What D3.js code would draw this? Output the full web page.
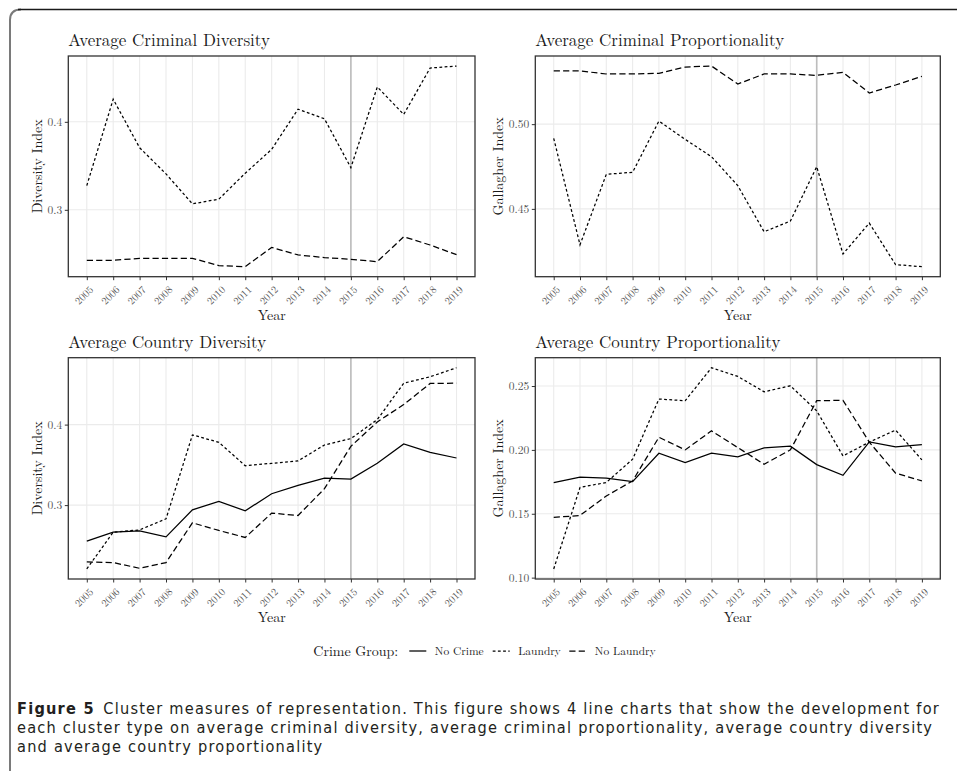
<!DOCTYPE html>
<html>
<head>
<meta charset="utf-8">
<script src="https://cdn.jsdelivr.net/npm/d3@7/dist/d3.min.js"></script>
<style>
  html, body { margin: 0; padding: 0; background: #fff; }
  svg { display: block; }
</style>
</head>
<body>
<svg id="fig" width="957" height="771"></svg>
<script>
// ---- data ----------------------------------------------------------------
const years = [2005, 2006, 2007, 2008, 2009, 2010, 2011, 2012, 2013, 2014, 2015, 2016, 2017, 2018, 2019];
const markerYear = 2015;

const groups = ["No Crime", "Laundry", "No Laundry"];

const crimDivLaundry    = [0.3275, 0.4257, 0.3706, 0.3408, 0.3068, 0.3121, 0.3416, 0.3687, 0.4144, 0.4034, 0.3479, 0.4396, 0.4084, 0.4611, 0.4634];
const crimDivNoLaundry  = [0.2426, 0.2426, 0.2449, 0.2449, 0.2449, 0.2366, 0.2354, 0.2573, 0.2487, 0.2457, 0.2438, 0.2411, 0.2694, 0.2600, 0.2490];

const crimPropLaundry   = [0.4916, 0.4288, 0.4704, 0.4716, 0.5018, 0.4910, 0.4808, 0.4637, 0.4365, 0.4428, 0.4749, 0.4234, 0.4416, 0.4171, 0.4159];
const crimPropNoLaundry = [0.5314, 0.5314, 0.5296, 0.5296, 0.5300, 0.5337, 0.5343, 0.5237, 0.5296, 0.5296, 0.5288, 0.5306, 0.5184, 0.5231, 0.5282];

const ctryDivNoCrime    = [0.2552, 0.2664, 0.2680, 0.2605, 0.2941, 0.3045, 0.2929, 0.3141, 0.3245, 0.3336, 0.3324, 0.3519, 0.3760, 0.3655, 0.3585];
const ctryDivLaundry    = [0.2207, 0.2664, 0.2692, 0.2829, 0.3872, 0.3780, 0.3489, 0.3519, 0.3549, 0.3747, 0.3826, 0.4062, 0.4514, 0.4594, 0.4706];
const ctryDivNoLaundry  = [0.2294, 0.2286, 0.2215, 0.2286, 0.2780, 0.2685, 0.2598, 0.2900, 0.2871, 0.3204, 0.3730, 0.4033, 0.4249, 0.4511, 0.4515];

const ctryPropNoCrime   = [0.1743, 0.1787, 0.1779, 0.1752, 0.1974, 0.1901, 0.1974, 0.1945, 0.2016, 0.2029, 0.1885, 0.1801, 0.2063, 0.2024, 0.2042];
const ctryPropLaundry   = [0.1068, 0.1706, 0.1745, 0.1927, 0.2398, 0.2385, 0.2643, 0.2575, 0.2455, 0.2502, 0.2306, 0.1953, 0.2061, 0.2155, 0.1922];
const ctryPropNoLaundry = [0.1471, 0.1487, 0.1639, 0.1757, 0.2099, 0.2000, 0.2149, 0.2018, 0.1888, 0.2000, 0.2385, 0.2388, 0.2061, 0.1818, 0.1757];

const divTicks   = [0.3, 0.4];
const crimPropTicks = [0.45, 0.50];
const ctryPropTicks = [0.10, 0.15, 0.20, 0.25];

const captionLines = [
  "Cluster measures of representation. This figure shows 4 line charts that show the development for",
  "each cluster type on average criminal diversity, average criminal proportionality, average country diversity",
  "and average country proportionality"
];

// ---- panels ----------------------------------------------------------------
const panels = [
  { title: "Average Criminal Diversity", yTitle: "Diversity Index", ticks: divTicks, fmt: ".1f",
    series: { "Laundry": crimDivLaundry, "No Laundry": crimDivNoLaundry },
    box: { x0: 68.3, x1: 475, y0: 56, y1: 276.7 }, titleX: 36.7 },
  { title: "Average Criminal Proportionality", yTitle: "Gallagher Index", ticks: crimPropTicks, fmt: ".2f",
    series: { "Laundry": crimPropLaundry, "No Laundry": crimPropNoLaundry },
    box: { x0: 535.3, x1: 940.3, y0: 56, y1: 276.7 }, titleX: 498 },
  { title: "Average Country Diversity", yTitle: "Diversity Index", ticks: divTicks, fmt: ".1f",
    series: { "No Crime": ctryDivNoCrime, "Laundry": ctryDivLaundry, "No Laundry": ctryDivNoLaundry },
    box: { x0: 68.3, x1: 475, y0: 357.7, y1: 579 }, titleX: 36.7 },
  { title: "Average Country Proportionality", yTitle: "Gallagher Index", ticks: ctryPropTicks, fmt: ".2f",
    series: { "No Crime": ctryPropNoCrime, "Laundry": ctryPropLaundry, "No Laundry": ctryPropNoLaundry },
    box: { x0: 535.3, x1: 940.3, y0: 357.7, y1: 579 }, titleX: 498 }
];

const dash = { "No Crime": null, "Laundry": "2.8,2.4", "No Laundry": "6.2,3.2" };

const SERIF = "'Latin Modern Roman', 'CMU Serif', 'Liberation Serif', 'DejaVu Serif', serif";
const SANS = "'DejaVu Sans Condensed', 'Open Sans', 'Noto Sans', sans-serif";

const svg = d3.select("#fig");

// frame around the figure
svg.append("path")
  .attr("d", "M10,800 L10,20 Q10,9.5 21,9.5")
  .attr("fill", "none").attr("stroke", "#7a7a7a").attr("stroke-width", 2);
svg.append("path")
  .attr("d", "M18,9.5 L960,9.5")
  .attr("fill", "none").attr("stroke", "#1a1a1a").attr("stroke-width", 1.4);

// expand the data range by 5% on both sides
function expand(ext) {
  const pad = (ext[1] - ext[0]) * 0.05;
  return [ext[0] - pad, ext[1] + pad];
}

panels.forEach(p => {
  const b = p.box;
  const x = d3.scaleLinear()
    .domain(expand([years[0], years[years.length - 1]]))
    .range([b.x0, b.x1]);
  const allVals = Object.values(p.series).flat();
  const y = d3.scaleLinear()
    .domain(expand(d3.extent(allVals)))
    .range([b.y1, b.y0]);

  const g = svg.append("g");

  // grid
  g.append("g").selectAll("line").data(years).join("line")
    .attr("x1", d => x(d)).attr("x2", d => x(d))
    .attr("y1", b.y0).attr("y2", b.y1)
    .attr("stroke", "#ebebeb").attr("stroke-width", 1.1);
  g.append("g").selectAll("line").data(p.ticks).join("line")
    .attr("x1", b.x0).attr("x2", b.x1)
    .attr("y1", d => y(d)).attr("y2", d => y(d))
    .attr("stroke", "#ebebeb").attr("stroke-width", 1.1);

  // reference year
  g.append("line")
    .attr("x1", x(markerYear)).attr("x2", x(markerYear))
    .attr("y1", b.y0).attr("y2", b.y1)
    .attr("stroke", "#bdbdbd").attr("stroke-width", 1.6);

  // series lines
  const line = d3.line().x((d, i) => x(years[i])).y(d => y(d));
  groups.filter(k => p.series[k]).forEach(k => {
    g.append("path")
      .datum(p.series[k])
      .attr("d", line)
      .attr("fill", "none")
      .attr("stroke", "#000")
      .attr("stroke-width", 1.25)
      .attr("stroke-dasharray", dash[k]);
  });

  // panel border
  g.append("rect")
    .attr("x", b.x0).attr("y", b.y0)
    .attr("width", b.x1 - b.x0).attr("height", b.y1 - b.y0)
    .attr("fill", "none").attr("stroke", "#333").attr("stroke-width", 1.3);

  // x axis
  const xAxis = d3.axisBottom(x).tickValues(years).tickFormat(d3.format("d"))
    .tickSize(3.5).tickPadding(2);
  const xg = g.append("g").attr("transform", `translate(0,${b.y1})`).call(xAxis);
  xg.select(".domain").remove();
  xg.selectAll(".tick line").attr("stroke", "#333").attr("stroke-width", 1);
  xg.selectAll(".tick text")
    .attr("font-family", SERIF).attr("font-size", 10.5).attr("fill", "#555")
    .attr("text-anchor", "end")
    .attr("dy", "0.35em")
    .attr("transform", "translate(4,11) rotate(-45)")
    .attr("x", 0).attr("y", 0);

  // y axis
  const yAxis = d3.axisLeft(y).tickValues(p.ticks).tickFormat(d3.format(p.fmt))
    .tickSize(3.5).tickPadding(2.5);
  const yg = g.append("g").attr("transform", `translate(${b.x0},0)`).call(yAxis);
  yg.select(".domain").remove();
  yg.selectAll(".tick line").attr("stroke", "#333").attr("stroke-width", 1);
  yg.selectAll(".tick text")
    .attr("font-family", SERIF).attr("font-size", 11.5).attr("fill", "#555");

  // titles
  g.append("text")
    .attr("x", b.x0).attr("y", b.y0 - 10)
    .attr("font-family", SERIF).attr("font-size", 17).attr("fill", "#1a1a1a")
    .text(p.title);
  g.append("text")
    .attr("x", (b.x0 + b.x1) / 2).attr("y", b.y1 + 43)
    .attr("text-anchor", "middle")
    .attr("font-family", SERIF).attr("font-size", 14).attr("fill", "#1a1a1a")
    .text("Year");
  g.append("text")
    .attr("transform", `translate(${p.titleX},${(b.y0 + b.y1) / 2}) rotate(-90)`)
    .attr("text-anchor", "middle").attr("dy", "0.35em")
    .attr("font-family", SERIF).attr("font-size", 14).attr("fill", "#1a1a1a")
    .text(p.yTitle);
});

// ---- legend ----------------------------------------------------------------
const lg = svg.append("g").attr("transform", "translate(0,651)");
lg.append("text")
  .attr("x", 313.3).attr("dy", "0.35em")
  .attr("font-family", SERIF).attr("font-size", 14).attr("fill", "#1a1a1a")
  .text("Crime Group:");
const keyX = { "No Crime": 409.3, "Laundry": 492.7, "No Laundry": 569.3 };
groups.forEach(k => {
  lg.append("line")
    .attr("x1", keyX[k]).attr("x2", keyX[k] + 17).attr("y1", 0).attr("y2", 0)
    .attr("stroke", "#000").attr("stroke-width", 1.25)
    .attr("stroke-dasharray", dash[k]);
  lg.append("text")
    .attr("x", keyX[k] + 25.5).attr("dy", "0.35em")
    .attr("font-family", SERIF).attr("font-size", 11.5).attr("fill", "#1a1a1a")
    .text(k);
});

// ---- caption ---------------------------------------------------------------
const capSize = 16.2;
const cap = svg.append("g").attr("font-family", SANS).attr("fill", "#231f20")
  .attr("font-size", capSize);
const first = cap.append("text").attr("x", 17).attr("y", 714);
first.append("tspan").attr("font-weight", "bold").text("Figure 5");
first.append("tspan").text("\u2002" + captionLines[0]);
// open the tracking so the first line spans the full text block
const w = first.node().getComputedTextLength();
const nChars = ("Figure 5\u2002" + captionLines[0]).length;
const track = Math.max(0, (923 - w) / nChars);
cap.attr("letter-spacing", track);
captionLines.slice(1).forEach((t, i) => {
  cap.append("text").attr("x", 17).attr("y", 714 + 19 * (i + 1)).text(t);
});
</script>
</body>
</html>
